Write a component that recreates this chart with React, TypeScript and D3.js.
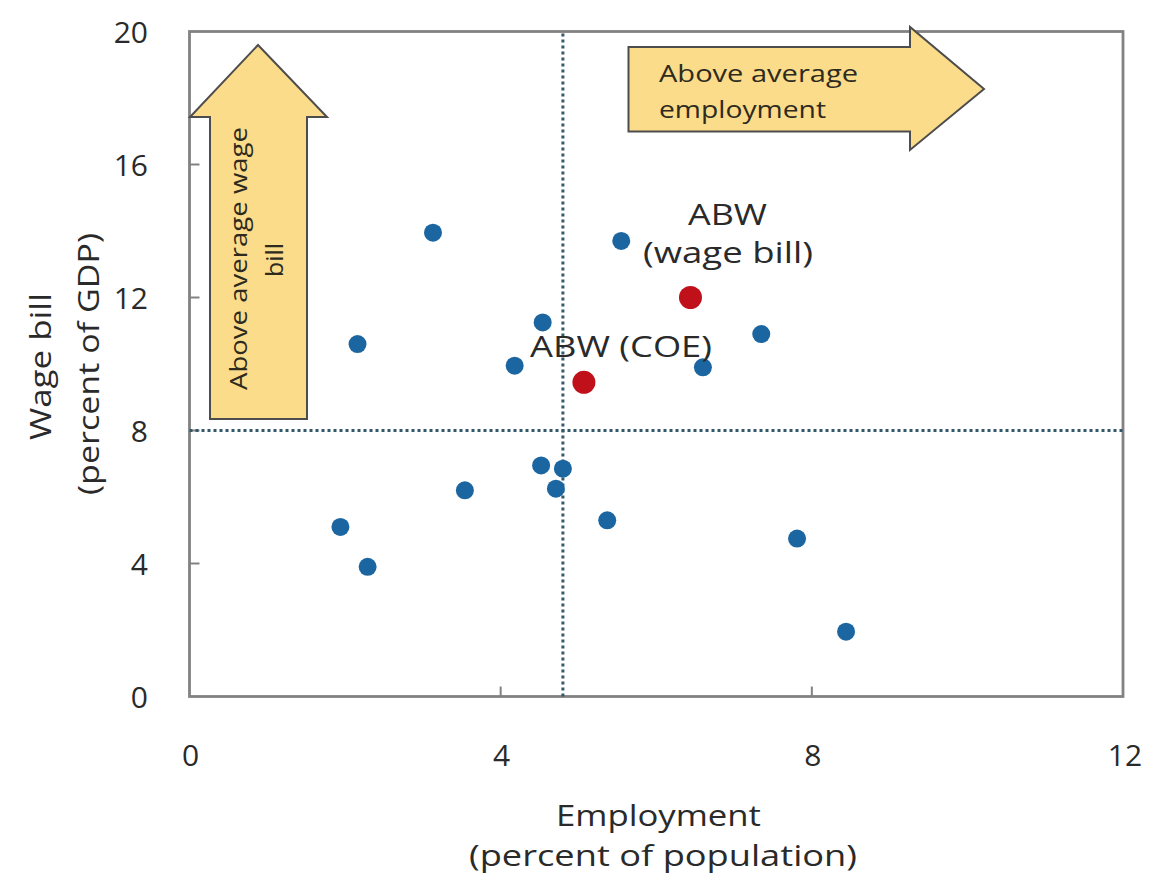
import React from "react";
import * as d3 from "d3";

const employment = [3.13, 5.55, 2.16, 4.54, 4.18, 7.35, 6.6, 3.54, 4.52, 4.8, 4.71, 5.37, 1.94, 2.29, 7.81, 8.44];
const wageBill = [13.95, 13.7, 10.6, 11.25, 9.95, 10.9, 9.9, 6.2, 6.95, 6.85, 6.25, 5.3, 5.1, 3.9, 4.75, 1.95];
const abwLabels = ["ABW (wage bill)", "ABW (COE)"];
const abwEmployment = [6.44, 5.07];
const abwWage = [12.0, 9.45];
const xTicks = [0, 4, 8, 12];
const yTicks = [0, 4, 8, 12, 16, 20];
const avgEmployment = 4.8;
const avgWage = 8;

const W = 1154;
const H = 883;
const FONT = "'Open Sans', 'DejaVu Sans', sans-serif";

export default function App() {
  const x = d3.scaleLinear().domain([0, 12]).range([189.5, 1123]);
  const y = d3.scaleLinear().domain([0, 20]).range([696.5, 31.5]);
  const [x0, x1] = x.range();
  const [y0, y1] = y.range();

  const vArrow = d3.line()([
    [210, 419], [210, 117], [190, 117], [258, 45], [327, 117], [307, 117], [307, 419],
  ]) + "Z";
  const hArrow = d3.line()([
    [628.5, 47], [910, 47], [910, 27], [984, 89], [910, 150], [910, 131.5], [628.5, 131.5],
  ]) + "Z";

  const txt = { fontFamily: FONT, fill: "#2a2a2a" } as const;
  const atxt = { fontFamily: FONT, fill: "#2e2a1e" } as const;

  return (
    <svg width={W} height={H} viewBox={`0 0 ${W} ${H}`} style={{ position: "absolute", left: 0, top: 0, background: "#fff" }}>
      {/* frame */}
      <rect x={x0} y={y1} width={x1 - x0} height={y0 - y1} fill="none" stroke="#828282" strokeWidth={2.8} />
      {/* ticks inward */}
      {yTicks.slice(1, -1).map((t) => (
        <line key={"yt" + t} x1={x0} x2={x0 + 10} y1={y(t)} y2={y(t)} stroke="#828282" strokeWidth={2} />
      ))}
      {xTicks.slice(1, -1).map((t) => (
        <line key={"xt" + t} x1={x(t)} x2={x(t)} y1={y0} y2={y0 - 10} stroke="#828282" strokeWidth={2} />
      ))}
      {/* tick labels */}
      {yTicks.map((t) => (
        <text key={"yl" + t} x={148} y={y(t) + 11} textAnchor="end" fontSize={30} style={txt}>{t}</text>
      ))}
      {xTicks.map((t) => (
        <text key={"xl" + t} x={x(t) + (t === 12 ? 2 : 1)} y={766} textAnchor="middle" fontSize={30} style={txt}>{t}</text>
      ))}
      {/* axis titles */}
      <text x={658.5} y={826} textAnchor="middle" fontSize={29} textLength={205} lengthAdjust="spacingAndGlyphs" style={txt}>Employment</text>
      <text x={663} y={866} textAnchor="middle" fontSize={29} textLength={388} lengthAdjust="spacingAndGlyphs" style={txt}>(percent of population)</text>
      <text transform="translate(51,366.5) rotate(-90)" textAnchor="middle" fontSize={29} textLength={147} lengthAdjust="spacingAndGlyphs" style={txt}>Wage bill</text>
      <text transform="translate(99,364) rotate(-90)" textAnchor="middle" fontSize={29} textLength={262} lengthAdjust="spacingAndGlyphs" style={txt}>(percent of GDP)</text>

      {/* arrows */}
      <path d={vArrow} fill="#fbdc8a" stroke="#4d4d4d" strokeWidth={2} />
      <path d={hArrow} fill="#fbdc8a" stroke="#4d4d4d" strokeWidth={2} />
      <text transform="translate(247,258.5) rotate(-90)" textAnchor="middle" fontSize={23} textLength={263} lengthAdjust="spacingAndGlyphs" style={atxt}>Above average wage</text>
      <text transform="translate(283,260) rotate(-90)" textAnchor="middle" fontSize={23} textLength={34} lengthAdjust="spacingAndGlyphs" style={atxt}>bill</text>
      <text x={659} y={82} fontSize={23} textLength={199} lengthAdjust="spacingAndGlyphs" style={atxt}>Above average</text>
      <text x={659} y={118} fontSize={23} textLength={167} lengthAdjust="spacingAndGlyphs" style={atxt}>employment</text>

      {/* average lines */}
      <line x1={x(avgEmployment)} x2={x(avgEmployment)} y1={y1 + 2} y2={y0} stroke="#34596b" strokeWidth={3} strokeDasharray="3 3" />
      <line x1={x0} x2={x1} y1={y(avgWage)} y2={y(avgWage)} stroke="#34596b" strokeWidth={3} strokeDasharray="3 3" />

      {/* points */}
      {employment.map((e, i) => (
        <circle key={"p" + i} cx={x(e)} cy={y(wageBill[i])} r={9} fill="#1b66a1" />
      ))}
      {abwEmployment.map((e, i) => (
        <circle key={"a" + i} cx={x(e)} cy={y(abwWage[i])} r={11.5} fill="#c0111b" />
      ))}

      {/* ABW labels */}
      <text x={727.5} y={225} textAnchor="middle" fontSize={29} textLength={79} lengthAdjust="spacingAndGlyphs" style={txt}>ABW</text>
      <text x={728} y={263} textAnchor="middle" fontSize={29} textLength={170} lengthAdjust="spacingAndGlyphs" style={txt}>(wage bill)</text>
      <text x={621} y={357} textAnchor="middle" fontSize={29} textLength={182} lengthAdjust="spacingAndGlyphs" style={txt}>{abwLabels[1]}</text>
    </svg>
  );
}
